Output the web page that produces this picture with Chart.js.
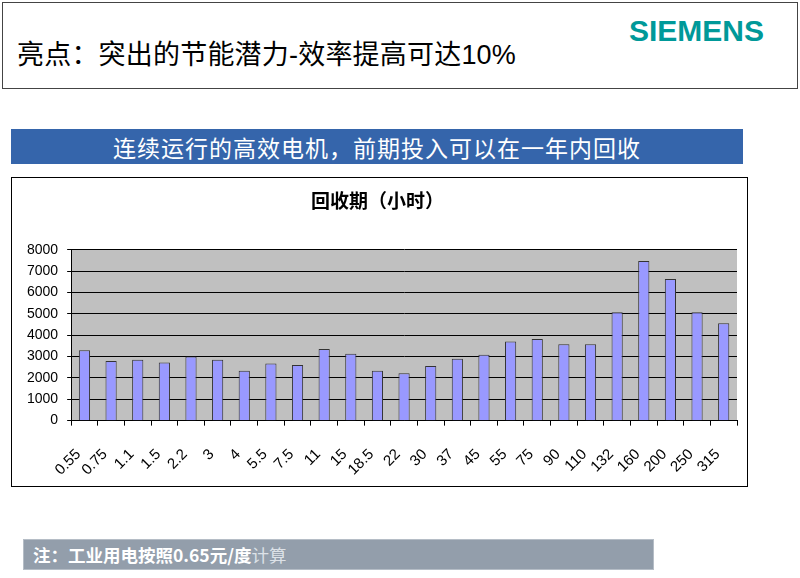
<!DOCTYPE html>
<html>
<head>
<meta charset="utf-8">
<script src="https://cdn.jsdelivr.net/npm/chart.js@4/dist/chart.umd.min.js"></script>
<style>
  body { margin: 0; width: 800px; height: 578px; background: #fff; position: relative; overflow: hidden;
         font-family: "Liberation Sans", Arial, "Noto Sans CJK SC", sans-serif; }
  .topbox { position: absolute; left: 2px; top: 2px; width: 794px; height: 85px; border: 1px solid #444; }
  .headline { position: absolute; left: 17px; top: 42px; font-size: 27px; line-height: 27px; color: #000; white-space: nowrap;
              letter-spacing: 0.2px; font-family: "Liberation Sans", "Noto Sans CJK SC", sans-serif; }
  .logo { position: absolute; left: 629px; top: 16px; font-size: 30px; line-height: 30px; font-weight: bold; color: #009999;
          font-family: "Liberation Sans", Arial, sans-serif; }
  .banner { position: absolute; left: 11px; top: 129px; width: 732px; height: 35px; background: #3565ab;
            color: #fff; text-align: center; font-size: 23px; line-height: 37px; letter-spacing: 1px;
            font-family: "Noto Sans CJK SC", sans-serif; }
  .chartbox { position: absolute; left: 11px; top: 177px; width: 735px; height: 308px; border: 1px solid #000; }
  .note { position: absolute; left: 23px; top: 539px; width: 629px; height: 29px; background: #939eab;
          border: 1px solid #b5bdc6; color: #fff; font-size: 17.5px; line-height: 30px; white-space: nowrap;
          font-family: "Noto Sans CJK SC", sans-serif; }
  .note span.b { font-weight: bold; margin-left: 9px; }
  .note span.l { color: #dde2e8; }
</style>
</head>
<body>
<div class="topbox"></div>
<div class="headline">亮点：突出的节能潜力-效率提高可达10%</div>
<div class="logo">SIEMENS</div>
<div class="banner">连续运行的高效电机，前期投入可以在一年内回收</div>
<div class="chartbox"><canvas id="paybackChart" width="735" height="308"></canvas></div>
<div class="note"><span class="b">注：工业用电按照0.65元/度</span><span class="l">计算</span></div>

<script>
// Motor power ratings (kW) on the x axis
const motorPowers = ['0.55', '0.75', '1.1', '1.5', '2.2', '3', '4', '5.5', '7.5', '11', '15', '18.5', '22',
                     '30', '37', '45', '55', '75', '90', '110', '132', '160', '200', '250', '315'];

// Payback period in hours
const paybackHours = [3300, 2790, 2850, 2720, 3000, 2850, 2330, 2670, 2600, 3350, 3130, 2330, 2220,
                      2560, 2900, 3080, 3700, 3820, 3580, 3580, 5080, 7480, 6630, 5080, 4560];

const yTicks = [0, 1000, 2000, 3000, 4000, 5000, 6000, 7000, 8000];

// Gray plot background like the old Excel charts
const plotBackground = {
    id: 'plotBackground',
    beforeDraw(chart) {
        const { ctx, chartArea } = chart;
        ctx.save();
        ctx.fillStyle = '#c0c0c0';
        ctx.fillRect(chartArea.left, chartArea.top, chartArea.right - chartArea.left, chartArea.bottom - chartArea.top);
        ctx.restore();
    }
};

const ctx = document.getElementById('paybackChart').getContext('2d');

new Chart(ctx, {
    type: 'bar',
    data: {
        labels: motorPowers,
        datasets: [{
            label: '回收期（小时）',
            data: paybackHours,
            backgroundColor: '#9999ff',
            borderColor: '#333333',
            borderWidth: 1,
            barPercentage: 0.42,
            categoryPercentage: 1
        }]
    },
    options: {
        responsive: false,
        animation: false,
        layout: { padding: { left: 6, right: 10, top: 0, bottom: 1 } },
        plugins: {
            legend: { display: false },
            tooltip: { enabled: false },
            title: {
                display: true,
                text: '回收期（小时）',
                color: '#000',
                font: { family: '"Noto Sans CJK SC", sans-serif', size: 19, weight: 'bold' },
                padding: { top: 11, bottom: 38 }
            }
        },
        scales: {
            x: {
                offset: true,
                grid: { offset: true, drawOnChartArea: false, drawTicks: true, tickLength: 5, color: '#000' },
                border: { color: '#000', width: 1 },
                // rotated first label should not push the plot area to the right,
                // and the extra label gap should not shrink the plot
                afterFit(axis) {
                    axis.paddingLeft = 0;
                    axis.paddingRight = 0;
                    axis.height -= 14;
                },
                ticks: {
                    color: '#000',
                    minRotation: 45,
                    maxRotation: 45,
                    padding: 20,
                    labelOffset: -6,
                    autoSkip: false,
                    font: { family: '"Liberation Sans", Arial, sans-serif', size: 15 }
                }
            },
            y: {
                min: 0,
                max: 8000,
                afterBuildTicks(axis) { axis.ticks = yTicks.map(v => ({ value: v })); },
                grid: { color: '#000', lineWidth: 1, tickLength: 4, drawTicks: true },
                border: { color: '#000', width: 1 },
                ticks: {
                    color: '#000',
                    padding: 9,
                    callback: v => String(v),
                    font: { family: '"Liberation Sans", Arial, sans-serif', size: 14 }
                }
            }
        }
    },
    plugins: [plotBackground]
});
</script>
</body>
</html>
